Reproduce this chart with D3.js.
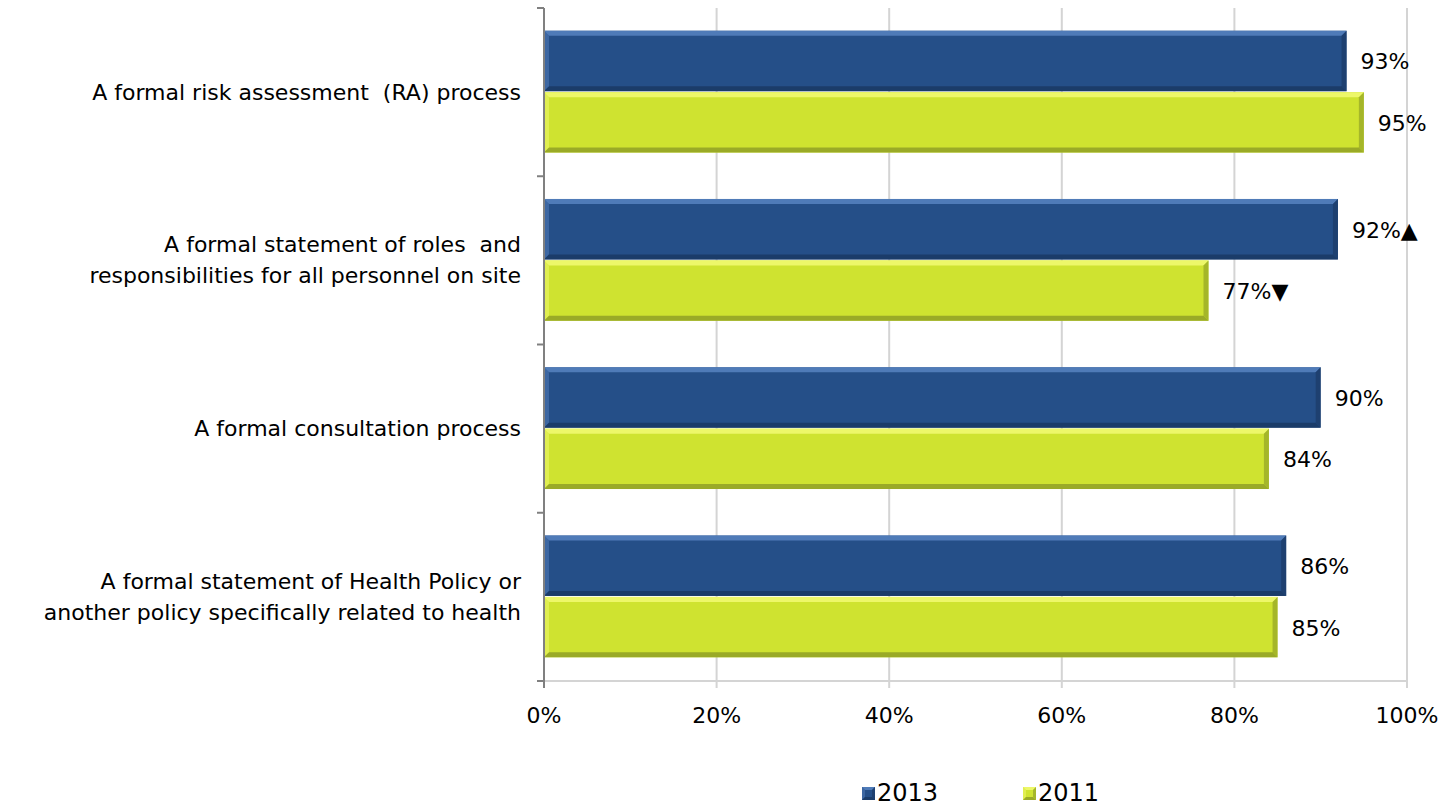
<!DOCTYPE html>
<html><head><meta charset="utf-8">
<script src="https://cdn.jsdelivr.net/npm/d3@7"></script>
<style>body{margin:0;background:#fff}svg{display:block}text{font-family:"DejaVu Sans",Arial,sans-serif;fill:#000}</style>
</head><body><svg id="c" width="1443" height="806"></svg>
<script>
const categories = [
  ["A formal risk assessment  (RA) process"],
  ["A formal statement of roles  and", "responsibilities for all personnel on site"],
  ["A formal consultation process"],
  ["A formal statement of Health Policy or", "another policy specifically related to health"]
];
const seriesNames = ["2013", "2011"];
const values2013 = [93, 92, 90, 86];
const values2011 = [95, 77, 84, 85];
const marks2013 = ["", "▲", "", ""];
const marks2011 = ["", "▼", "", ""];
const ticks = [0, 20, 40, 60, 80, 100];

const colors = {
  "2013": {base:"#254f88", light:"#5a86c4", dark:"#1b3a66"},
  "2011": {base:"#cfe330", light:"#f4fb78", dark:"#93a327"}
};

const svg = d3.select("#c");
const m = {left:544, right:1407, top:8, bottom:681};
const x = d3.scaleLinear().domain([0,100]).range([m.left, m.right]);
const y = d3.scaleBand().domain(d3.range(categories.length)).range([m.top, m.bottom]).paddingInner(0.27).paddingOuter(0.135);
const ys = d3.scaleBand().domain(seriesNames).range([0, y.bandwidth()]);

// gridlines
svg.append("g").selectAll("line").data(ticks.slice(1)).join("line")
  .attr("x1", d=>x(d)).attr("x2", d=>x(d)).attr("y1", m.top).attr("y2", m.bottom+7)
  .attr("stroke", "#d4d4d4").attr("stroke-width", 2);
// bottom axis line
svg.append("line").attr("x1", m.left-1).attr("x2", m.right+1).attr("y1", m.bottom).attr("y2", m.bottom)
  .attr("stroke", "#d4d4d4").attr("stroke-width", 2);
// tick labels
svg.append("g").selectAll("text").data(ticks).join("text")
  .attr("x", d=>x(d)).attr("y", 715).attr("text-anchor","middle").attr("dominant-baseline","central")
  .style("font-size","22px").text(d=>d+"%");

// bars
function bevelBar(g, x0, x1, y0, h, c, b){
  b = b || 5;
  g.append("rect").attr("x", x0).attr("y", y0).attr("width", x1-x0).attr("height", h).attr("fill", c.base);
  g.append("polygon").attr("points", [[x0,y0],[x1,y0],[x1-b,y0+b],[x0+b,y0+b]].join(" ")).attr("fill", c.light).attr("opacity",0.8);
  g.append("polygon").attr("points", [[x0,y0],[x0+b,y0+b],[x0+b,y0+h-b],[x0,y0+h]].join(" ")).attr("fill", c.light).attr("opacity",0.45);
  g.append("polygon").attr("points", [[x0,y0+h],[x1,y0+h],[x1-b,y0+h-b],[x0+b,y0+h-b]].join(" ")).attr("fill", c.dark).attr("opacity",0.9);
  g.append("polygon").attr("points", [[x1,y0],[x1,y0+h],[x1-b,y0+h-b],[x1-b,y0+b]].join(" ")).attr("fill", c.dark).attr("opacity",0.7);
}
const series = [
  {name:"2013", vals:values2013, marks:marks2013},
  {name:"2011", vals:values2011, marks:marks2011}
];
const gb = svg.append("g");
series.forEach(s=>{
  s.vals.forEach((v,i)=>{
    const y0 = y(i) + ys(s.name);
    const h = ys.bandwidth() - 1;
    bevelBar(gb, x(0), x(v), y0, h, colors[s.name]);
    gb.append("text").attr("x", x(v)+14).attr("y", y0 + h/2 + 1).attr("dominant-baseline","central")
      .style("font-size","22px").text(v+"%"+s.marks[i]);
  });
});

// left axis
svg.append("line").attr("x1", m.left).attr("x2", m.left).attr("y1", m.top).attr("y2", m.bottom+7)
  .attr("stroke", "#808080").attr("stroke-width", 2);
const bounds = d3.range(categories.length+1).map(i=> i<categories.length ? y(i)-y.step()*y.paddingInner()/2 : m.bottom);
bounds[0] = m.top;
svg.append("g").selectAll("line").data(bounds).join("line")
  .attr("x1", m.left-7).attr("x2", m.left).attr("y1", d=>d).attr("y2", d=>d)
  .attr("stroke", "#808080").attr("stroke-width", 2);

// category labels
const gl = svg.append("g");
categories.forEach((lines,i)=>{
  const cy = y(i) + y.bandwidth()/2;
  const lh = 31;
  lines.forEach((t,j)=>{
    gl.append("text").attr("x", 521).attr("y", cy + (j-(lines.length-1)/2)*lh)
      .attr("text-anchor","end").attr("dominant-baseline","central").style("font-size","22px")
      .style("white-space","pre").text(t);
  });
});

// legend
const legX = [862, 1023];
series.forEach((s,i)=>{
  const c = colors[s.name];
  const g = svg.append("g");
  bevelBar(g, legX[i], legX[i]+13, 787, 13, c, 3);
  g.append("text").attr("x", legX[i]+15).attr("y", 793).attr("dominant-baseline","central")
    .style("font-size","24px").text(s.name);
});
</script></body></html>
